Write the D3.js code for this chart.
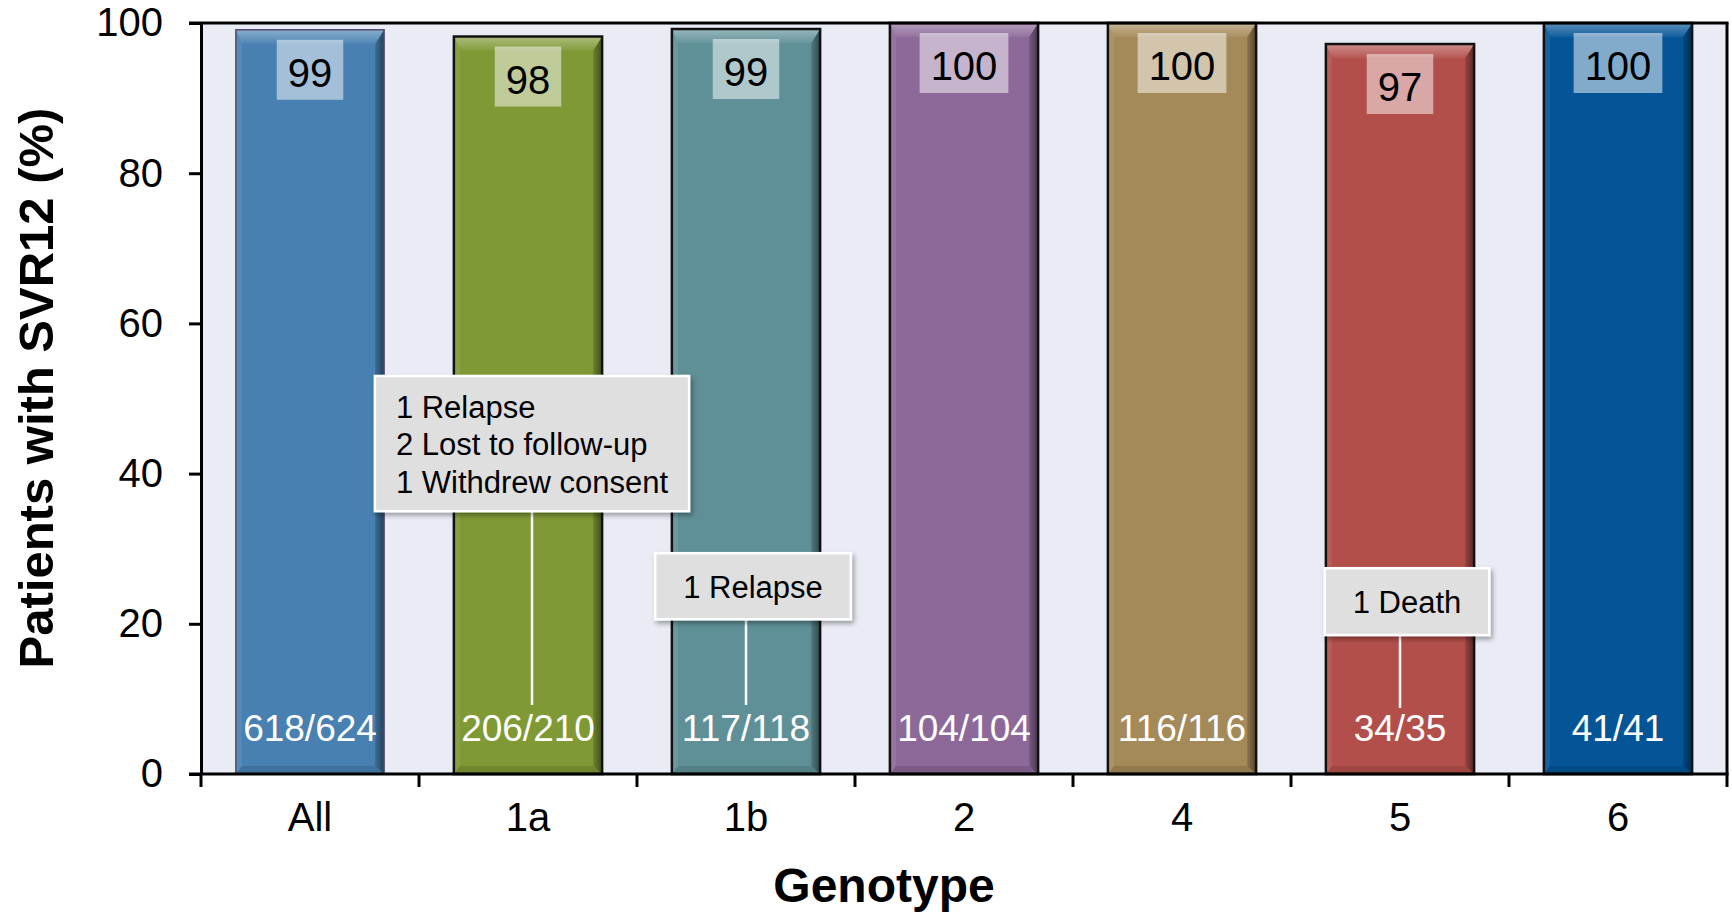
<!DOCTYPE html>
<html>
<head>
<meta charset="utf-8">
<script src="https://cdn.jsdelivr.net/npm/d3@7"></script>
<style>
  html, body { margin: 0; padding: 0; background: #ffffff; }
  svg { display: block; font-family: "Liberation Sans", Arial, Helvetica, sans-serif; }
</style>
</head>
<body>
<svg id="chart" width="1732" height="913"></svg>
<script>
// ---------------- data ----------------
const categories = ["All", "1a", "1b", "2", "4", "5", "6"];
const svrValues = [99.1, 98.2, 99.2, 100, 100, 97.2, 100];
const valueLabels = ["99", "98", "99", "100", "100", "97", "100"];
const countLabels = ["618/624", "206/210", "117/118", "104/104", "116/116", "34/35", "41/41"];
const barColors = ["#4780b1", "#7f9935", "#5f9097", "#8d6999", "#a58a59", "#b24f4b", "#045597"];
const yTicks = [0, 20, 40, 60, 80, 100];

// annotations: category, lines, box top/bottom in data units, line end in data units
const annoCategory = ["1a", "1b", "5"];
const annoLines = [["1 Relapse", "2 Lost to follow-up", "1 Withdrew consent"], ["1 Relapse"], ["1 Death"]];
const annoTop = [53.0, 29.4, 27.4];
const annoBottom = [35.0, 20.6, 18.5];
const annoLineEnd = [9.2, 9.2, 8.8];

// ---------------- layout ----------------
const W = 1732, H = 913;
const plot = { left: 201, right: 1727, top: 23, bottom: 774 };
const svg = d3.select("#chart");

const x = d3.scaleBand().domain(categories).range([plot.left, plot.right])
  .paddingInner(0.32).paddingOuter(0.16);
const y = d3.scaleLinear().domain([0, 100]).range([plot.bottom, plot.top]);

const defs = svg.append("defs");
const shadow = defs.append("filter").attr("id", "shadow")
  .attr("x", "-10%").attr("y", "-20%").attr("width", "130%").attr("height", "150%");
shadow.append("feDropShadow").attr("dx", 2).attr("dy", 3).attr("stdDeviation", 2.5)
  .attr("flood-color", "#000").attr("flood-opacity", 0.35);

// plot background
svg.append("rect").attr("x", plot.left).attr("y", plot.top)
  .attr("width", plot.right - plot.left).attr("height", plot.bottom - plot.top)
  .attr("fill", "#e9ecf5");

// bars with bevel
const mix = (c, t, k) => d3.interpolateRgb(c, t)(k);
categories.forEach((cat, i) => {
  const c = barColors[i];
  const x0 = x(cat), x1 = x0 + x.bandwidth();
  const y0 = y(svrValues[i]), y1 = y(0);
  const g = svg.append("g");
  const gradId = "topg" + i;
  const lg = defs.append("linearGradient").attr("id", gradId).attr("x1", 0).attr("y1", 0).attr("x2", 0).attr("y2", 1);
  lg.append("stop").attr("offset", 0).attr("stop-color", mix(c, "#fff", 0.35));
  lg.append("stop").attr("offset", 0.45).attr("stop-color", mix(c, "#fff", 0.22));
  lg.append("stop").attr("offset", 1).attr("stop-color", mix(c, "#fff", 0.05));
  const rgId = "rg" + i;
  const rg = defs.append("linearGradient").attr("id", rgId).attr("x1", 0).attr("y1", 0).attr("x2", 1).attr("y2", 0);
  rg.append("stop").attr("offset", 0).attr("stop-color", mix(c, "#000", 0.15));
  rg.append("stop").attr("offset", 1).attr("stop-color", mix(c, "#000", 0.5));

  const t = 14, r = 9, bo = 8, l = 6;
  g.append("rect").attr("x", x0).attr("y", y0).attr("width", x1 - x0).attr("height", y1 - y0).attr("fill", c);
  const poly = pts => pts.map(p => p.join(",")).join(" ");
  g.append("polygon").attr("points", poly([[x0, y1], [x1, y1], [x1 - r, y1 - bo], [x0 + l, y1 - bo]]))
    .attr("fill", mix(c, "#000", 0.12));
  g.append("polygon").attr("points", poly([[x0, y0], [x0, y1], [x0 + l, y1 - bo], [x0 + l, y0 + t]]))
    .attr("fill", mix(c, "#fff", 0.08));
  g.append("polygon").attr("points", poly([[x1, y0], [x1, y1], [x1 - r, y1 - bo], [x1 - r, y0 + t]]))
    .attr("fill", `url(#${rgId})`);
  g.append("polygon").attr("points", poly([[x0, y0], [x1, y0], [x1 - r, y0 + t], [x0 + l, y0 + t]]))
    .attr("fill", `url(#${gradId})`);
  g.append("rect").attr("x", x0).attr("y", y0).attr("width", x1 - x0).attr("height", y1 - y0)
    .attr("fill", "none")
    .attr("stroke", i === 0 ? "#5a4a6e" : "#111")
    .attr("stroke-width", i === 0 ? 1.5 : 2.5);

  // value label box
  const label = g.append("text").attr("x", (x0 + x1) / 2).attr("y", y0 + 57)
    .attr("text-anchor", "middle").attr("font-size", 40).attr("fill", "#000").text(valueLabels[i]);
  const tw = label.node().getComputedTextLength();
  g.insert("rect", "text").attr("x", (x0 + x1) / 2 - tw / 2 - 11).attr("y", y0 + 10)
    .attr("width", tw + 22).attr("height", 60).attr("fill", "#fff").attr("fill-opacity", 0.5);

  // count label
  g.append("text").attr("x", (x0 + x1) / 2).attr("y", 741)
    .attr("text-anchor", "middle").attr("font-size", 37).attr("fill", "#fff").text(countLabels[i]);
});

// annotations
annoCategory.forEach((cat, i) => {
  const cx = x(cat) + x.bandwidth() / 2;
  const lines = annoLines[i];
  const top = y(annoTop[i]), bottom = y(annoBottom[i]);
  const g = svg.append("g");
  const multi = lines.length > 1;
  const tmp = g.append("g");
  const texts = lines.map((s, k) => tmp.append("text").attr("font-size", 31).attr("fill", "#000").text(s));
  const maxW = d3.max(texts, tt => tt.node().getComputedTextLength());
  const padX = multi ? 21 : 28;
  const bw = maxW + padX * 2;
  const boxCx = multi ? cx + 4 : cx + 7;
  const bx = boxCx - bw / 2;
  // leader line
  g.insert("line", "g").attr("x1", cx + (multi ? 4 : 0)).attr("x2", cx + (multi ? 4 : 0))
    .attr("y1", bottom).attr("y2", y(annoLineEnd[i]))
    .attr("stroke", "#fff").attr("stroke-width", 2.5);
  g.insert("rect", "g").attr("x", bx).attr("y", top).attr("width", bw).attr("height", bottom - top)
    .attr("fill", "#dfdfdf").attr("stroke", "#fff").attr("stroke-width", 2.5)
    .attr("filter", "url(#shadow)");
  texts.forEach((tt, k) => {
    if (multi) {
      tt.attr("x", bx + padX).attr("y", top + 42 + k * 37.5).attr("text-anchor", "start");
    } else {
      tt.attr("x", boxCx).attr("y", top + 45).attr("text-anchor", "middle");
    }
  });
});

// frame (top & right)
svg.append("line").attr("x1", 189).attr("x2", plot.right + 1.5).attr("y1", plot.top).attr("y2", plot.top)
  .attr("stroke", "#000").attr("stroke-width", 3);
svg.append("line").attr("x1", plot.right).attr("x2", plot.right).attr("y1", plot.top).attr("y2", plot.bottom)
  .attr("stroke", "#000").attr("stroke-width", 3);

// y axis
const yAxis = svg.append("g").attr("transform", `translate(${plot.left},0)`)
  .call(d3.axisLeft(y).tickValues(yTicks).tickSize(12).tickPadding(26).tickSizeOuter(0));
yAxis.select(".domain").attr("stroke", "#000").attr("stroke-width", 3);
yAxis.selectAll(".tick line").attr("stroke", "#000").attr("stroke-width", 3);
yAxis.selectAll(".tick text").attr("font-size", 40).attr("fill", "#000")
  .attr("font-family", "Liberation Sans, Arial, sans-serif");

// x axis
const xAxis = svg.append("g").attr("transform", `translate(0,${plot.bottom})`)
  .call(d3.axisBottom(x).tickSize(0).tickPadding(29).tickSizeOuter(0));
xAxis.select(".domain").attr("stroke", "#000").attr("stroke-width", 3)
  .attr("d", `M${plot.left - 12},0H${plot.right + 1.5}`);
xAxis.selectAll(".tick text").attr("font-size", 40).attr("fill", "#000")
  .attr("font-family", "Liberation Sans, Arial, sans-serif");
const boundaries = categories.map(c => x(c) - x.step() * x.paddingInner() / 2).concat([plot.right]);
boundaries[0] = plot.left;
xAxis.selectAll(".bnd").data(boundaries).enter().append("line").attr("class", "bnd")
  .attr("x1", d => d).attr("x2", d => d).attr("y1", 0).attr("y2", 13)
  .attr("stroke", "#000").attr("stroke-width", 3);

// titles
svg.append("text").attr("transform", "translate(53,388) rotate(-90)")
  .attr("text-anchor", "middle").attr("font-size", 49).attr("font-weight", "bold")
  .text("Patients with SVR12 (%)");
svg.append("text").attr("x", 884).attr("y", 902)
  .attr("text-anchor", "middle").attr("font-size", 48).attr("font-weight", "bold")
  .text("Genotype");
</script>
</body>
</html>
